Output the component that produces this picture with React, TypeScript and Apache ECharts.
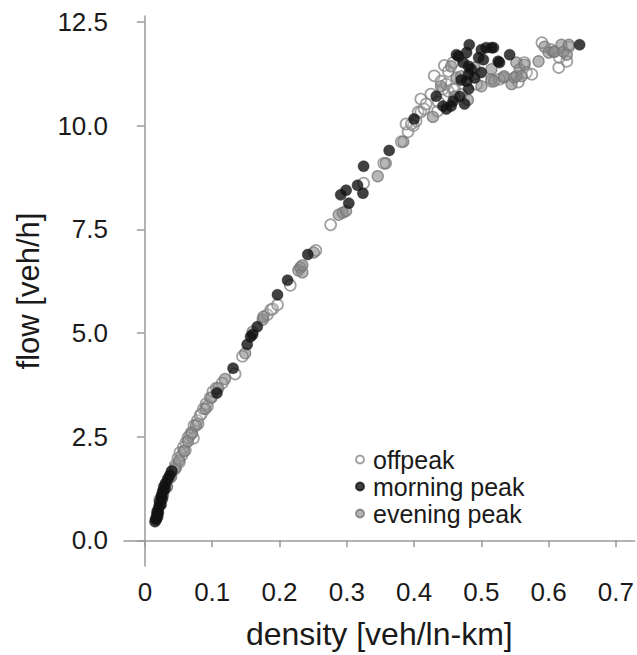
import React, { useEffect, useRef } from "react";
import * as echarts from "echarts";

const xTicks = [0, 0.1, 0.2, 0.3, 0.4, 0.5, 0.6, 0.7];
const yTicks = [0, 2.5, 5, 7.5, 10, 12.5];
const seriesNames = ["offpeak", "morning peak", "evening peak"];

const offpeak: [number, number][] = [
  [0.022, 0.98], [0.027, 1.17], [0.031, 1.34], [0.036, 1.5], [0.04, 1.65], [0.045, 1.81], [0.046, 1.77],
  [0.049, 1.98], [0.051, 1.88], [0.052, 2.12], [0.055, 2.05], [0.057, 2.24], [0.06, 2.17], [0.061, 2.36],
  [0.064, 2.48], [0.067, 2.53], [0.069, 2.6], [0.072, 2.46], [0.073, 2.77], [0.078, 2.89], [0.079, 2.81],
  [0.082, 3.01], [0.084, 3.05], [0.087, 3.17], [0.091, 3.29], [0.093, 3.24], [0.097, 3.44], [0.101, 3.58],
  [0.106, 3.67], [0.115, 3.79],
  [0.134, 4.01], [0.145, 4.44], [0.182, 5.44], [0.187, 5.56], [0.19, 5.58], [0.197, 5.68], [0.216, 6.15],
  [0.254, 6.99], [0.276, 7.61], [0.325, 8.61], [0.355, 9.09], [0.381, 9.61], [0.391, 9.85], [0.399, 10.0],
  [0.403, 10.11],
  [0.388, 10.04], [0.396, 10.04], [0.406, 10.33], [0.41, 10.33], [0.41, 10.64], [0.415, 10.4], [0.418, 10.52],
  [0.425, 10.76], [0.43, 11.2], [0.435, 10.35], [0.436, 10.57], [0.44, 11.07], [0.443, 10.88], [0.445, 11.45],
  [0.448, 11.0], [0.451, 10.83], [0.451, 11.31], [0.458, 10.88], [0.458, 11.52], [0.46, 10.88], [0.47, 10.75],
  [0.493, 11.0], [0.515, 11.07], [0.527, 11.12], [0.555, 11.05],
  [0.564, 11.52], [0.567, 11.28], [0.575, 11.24], [0.59, 12.0], [0.604, 11.83], [0.615, 11.4], [0.616, 11.64],
  [0.627, 11.55], [0.63, 11.9],
];

const morning: [number, number][] = [
  [0.015, 0.45], [0.016, 0.52], [0.017, 0.5], [0.018, 0.62], [0.019, 0.57], [0.019, 0.72], [0.02, 0.67],
  [0.021, 0.81], [0.022, 0.93], [0.024, 0.86], [0.024, 1.03], [0.025, 1.1], [0.026, 1.0], [0.027, 1.19],
  [0.028, 1.29], [0.03, 1.24], [0.031, 1.38], [0.034, 1.48], [0.037, 1.57], [0.04, 1.67],
  [0.107, 3.55], [0.131, 4.15], [0.152, 4.72], [0.157, 4.91], [0.16, 4.96], [0.167, 5.15], [0.197, 5.92],
  [0.212, 6.27], [0.242, 6.89], [0.291, 8.33], [0.299, 8.44], [0.303, 8.13], [0.316, 8.56], [0.324, 8.37],
  [0.325, 9.02], [0.363, 9.4],
  [0.4, 10.16], [0.433, 10.71], [0.443, 10.47], [0.448, 10.4], [0.455, 10.47], [0.458, 10.59], [0.468, 10.7],
  [0.475, 10.52], [0.47, 11.1], [0.49, 11.15],
  [0.463, 11.71], [0.466, 11.67], [0.473, 11.52], [0.478, 11.76], [0.482, 11.95], [0.481, 11.43], [0.481, 11.24],
  [0.478, 11.07], [0.481, 10.88], [0.485, 11.36], [0.496, 11.64], [0.5, 11.83], [0.503, 11.59], [0.5, 11.28],
  [0.507, 11.88], [0.515, 11.88], [0.518, 11.88], [0.525, 11.55], [0.527, 11.52], [0.542, 11.71], [0.646, 11.95],
];

const evening: [number, number][] = [
  [0.018, 0.67], [0.022, 0.86], [0.027, 1.1], [0.033, 1.29], [0.039, 1.53], [0.045, 1.72], [0.051, 1.93],
  [0.058, 2.15], [0.064, 2.39], [0.07, 2.58], [0.076, 2.77], [0.09, 3.17], [0.099, 3.44], [0.109, 3.67],
  [0.119, 3.89],
  [0.149, 4.51], [0.16, 5.03], [0.175, 5.32], [0.176, 5.39], [0.228, 6.51], [0.231, 6.58], [0.234, 6.46],
  [0.234, 6.63], [0.251, 6.94], [0.288, 7.85], [0.294, 7.9], [0.299, 7.94], [0.346, 8.78], [0.358, 9.09],
  [0.384, 9.61],
  [0.428, 10.21], [0.44, 10.95], [0.46, 10.7], [0.48, 10.62], [0.455, 11.43], [0.463, 11.16], [0.47, 11.19],
  [0.49, 11.4], [0.5, 10.95], [0.515, 11.36],
  [0.515, 11.12], [0.519, 11.07], [0.533, 11.16], [0.534, 11.19], [0.545, 11.0], [0.549, 11.16], [0.552, 11.52],
  [0.552, 11.19], [0.557, 11.36], [0.56, 11.19], [0.564, 11.47], [0.585, 11.55], [0.594, 11.9], [0.6, 11.76],
  [0.607, 11.78], [0.609, 11.78], [0.619, 11.95], [0.622, 11.78], [0.627, 11.71], [0.63, 11.95],
];

const FONT = "Liberation Sans";
const TEXT = "#1a1a1a";
const AXIS = "#9a9a9a";

export default function App() {
  const ref = useRef<HTMLDivElement>(null);
  useEffect(() => {
    if (!ref.current) return;
    const chart = echarts.init(ref.current, null, { renderer: "svg" });
    chart.setOption({
      animation: false,
      backgroundColor: "#ffffff",
      grid: { left: 124, right: 0, top: 16, bottom: 83, containLabel: false },
      legend: {
        orient: "vertical",
        left: 350,
        top: 441,
        data: seriesNames.map((name) => ({ name, icon: "circle" })),
        itemWidth: 16,
        itemHeight: 8,
        itemGap: 0,
        textStyle: { fontFamily: FONT, fontSize: 25, lineHeight: 27, color: TEXT },
      },
      xAxis: {
        type: "value",
        min: -0.0311,
        max: 0.7278,
        name: "density [veh/ln-km]",
        nameLocation: "middle",
        nameGap: 52,
        nameTextStyle: { fontFamily: FONT, fontSize: 32, color: TEXT },
        axisLine: { show: true, lineStyle: { color: AXIS, width: 1.5 } },
        axisTick: { show: true, customValues: xTicks, length: 7, lineStyle: { color: AXIS, width: 1.5 } },
        axisLabel: {
          customValues: xTicks,
          margin: 13,
          fontFamily: FONT,
          fontSize: 26,
          color: TEXT,
          formatter: (v: number) => (v === 0 ? "0" : String(Math.round(v * 10) / 10)),
        },
        splitLine: { show: false },
      },
      yAxis: {
        type: "value",
        min: -0.62,
        max: 12.643,
        name: "flow [veh/h]",
        nameLocation: "middle",
        nameGap: 80,
        nameTextStyle: { fontFamily: FONT, fontSize: 31, color: TEXT },
        axisLine: { show: true, lineStyle: { color: AXIS, width: 1.5 } },
        axisTick: { show: true, customValues: yTicks, length: 8, lineStyle: { color: AXIS, width: 1.5 } },
        axisLabel: {
          customValues: yTicks,
          margin: 16,
          fontFamily: FONT,
          fontSize: 26,
          color: TEXT,
          formatter: (v: number) => v.toFixed(1),
        },
        splitLine: { show: false },
      },
      series: [
        {
          name: "offpeak",
          type: "scatter",
          data: offpeak,
          symbol: "circle",
          symbolSize: 11,
          itemStyle: { color: "rgba(255,255,255,0.15)", borderColor: "#8a8a8a", borderWidth: 1.7 },
        },
        {
          name: "evening peak",
          type: "scatter",
          data: evening,
          symbol: "circle",
          symbolSize: 11,
          itemStyle: { color: "rgba(135,135,135,0.75)", borderColor: "#777777", borderWidth: 1.3 },
        },
        {
          name: "morning peak",
          type: "scatter",
          data: morning,
          symbol: "circle",
          symbolSize: 11,
          itemStyle: { color: "#111111", borderColor: "#111111", borderWidth: 0.5 },
        },
      ],
    });
    return () => chart.dispose();
  }, []);
  return (
    <div
      ref={ref}
      style={{ position: "fixed", left: 0, top: 0, width: 637, height: 655, background: "#fff" }}
    />
  );
}
